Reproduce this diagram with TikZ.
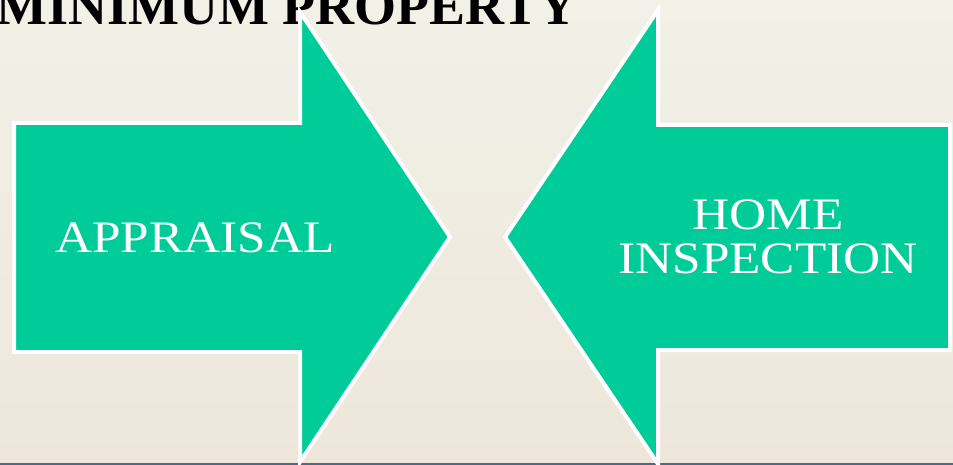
\documentclass[tikz,border=0pt]{standalone}
\usepackage{fontspec}
\setmainfont{Liberation Serif}
\newfontfamily\widefont[FakeStretch=1.14]{Liberation Serif}
\usetikzlibrary{positioning}
\definecolor{figgreen}{RGB}{0,204,153}
\definecolor{bgtop}{RGB}{241,241,231}
\definecolor{bgbot}{RGB}{238,230,219}
\definecolor{rulecol}{RGB}{74,106,138}
\tikzset{
  fig/.style={x=1pt,y=-1pt},
  bigarrow/.style={fill=figgreen,draw=white,line width=4pt,line join=miter},
  lbl/.style={text=white,font=\widefont\fontsize{45}{44}\selectfont,align=center,inner sep=0pt},
  ttl/.style={font=\bfseries\fontsize{54}{54}\selectfont,inner sep=0pt},
}

\begin{document}
\begin{tikzpicture}[fig]
\useasboundingbox (0,0) rectangle (953,465);
\shade[top color=bgtop,bottom color=bgbot] (0,0) rectangle (953,465);
\fill[rulecol] (0,462.5) rectangle (953,465);

% --- title, partly covered by the left arrow
\node[ttl,anchor=base east] (title) at (578,25) {MINIMUM PROPERTY};

% --- the two arrows, heads facing each other
\draw[bigarrow] (14,123) -- (300,123) -- (300,12) -- (450,237) -- (300,462)
      -- (300,352) -- (14,352) -- cycle;
\draw[bigarrow] (950,125) -- (658,125) -- (658,10) -- (505,237) -- (658,464)
      -- (658,350) -- (950,350) -- cycle;

\node[lbl,anchor=base] (appr) at (195,252) {APPRAISAL};
\node[lbl,anchor=base] (insp) at (768,273) {HOME\\INSPECTION};

\end{tikzpicture}
\end{document}
